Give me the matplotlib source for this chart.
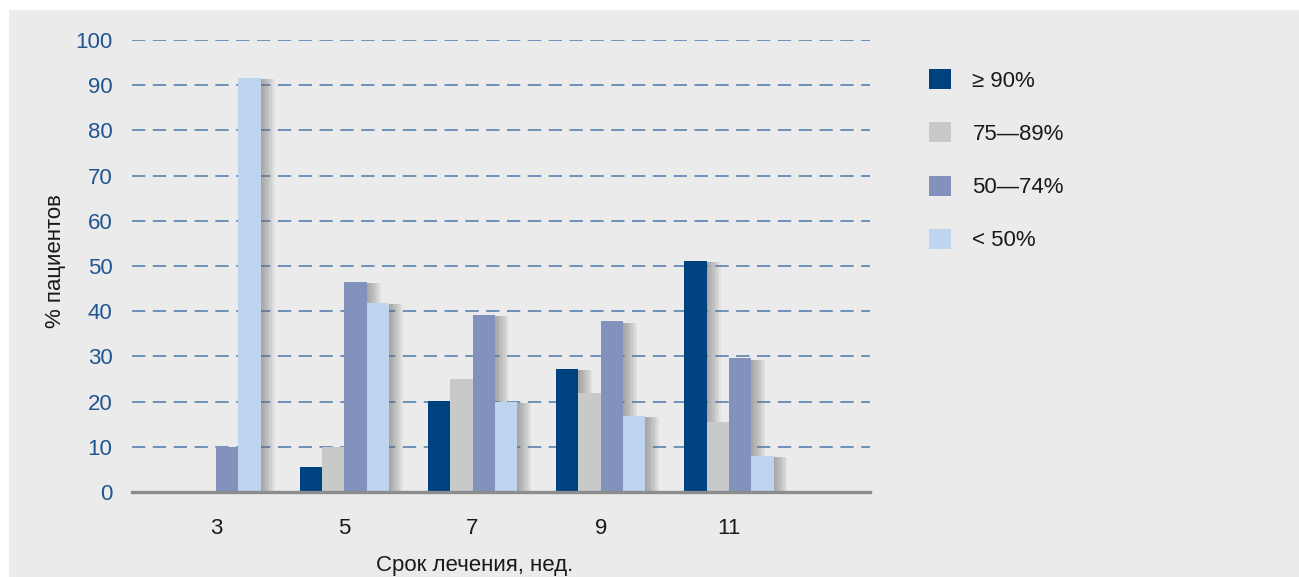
import numpy as np
import matplotlib.pyplot as plt
import matplotlib.patheffects as pe
from matplotlib.patches import Rectangle, Patch

plt.rcParams['font.family'] = ['Liberation Sans Narrow', 'Liberation Sans', 'DejaVu Sans']

weeks = ['3', '5', '7', '9', '11']
series_names = ['≥ 90%', '75—89%', '50—74%', '< 50%']
ge90 = [0, 5.5, 20.1, 27.2, 51.1]
p75_89 = [0, 10.0, 25.0, 21.9, 15.5]
p50_74 = [10.0, 46.5, 39.2, 37.8, 29.6]
lt50 = [91.7, 41.8, 20.0, 16.8, 8.0]
yticks = [0, 10, 20, 30, 40, 50, 60, 70, 80, 90, 100]

colors = ['#00427f', '#c8c9c9', '#8292bd', '#bdd5ef']
bg = '#ebebeb'

fig = plt.figure(figsize=(12.99, 5.77), dpi=100)
fig.patch.set_facecolor('white')
fig.patches.append(Rectangle((9/1299, 0), 1, 1 - 10/577, transform=fig.transFigure,
                             facecolor=bg, edgecolor='none', zorder=-10))

ax = fig.add_axes([132/1299, 1 - 492/577, (870 - 132)/1299, (492 - 40)/577])
ax.set_facecolor('none')

x = np.arange(len(weeks))
w = 0.174
all_series = [ge90, p75_89, p50_74, lt50]
# soft shadow to the right of each bar
shadow = [pe.SimplePatchShadow(offset=(k, -1), shadow_rgbFace='#6e6e6e', alpha=0.07)
          for k in range(1, 11)] + [pe.Normal()]
for i, (vals, c) in enumerate(zip(all_series, colors)):
    bars = ax.bar(x + (i - 1.5) * w, vals, width=w, color=c, zorder=3)
    for b in bars:
        if b.get_height() > 0:
            b.set_path_effects(shadow)

ax.set_xlim(-0.656, 5.1)
ax.set_ylim(0, 100)
ax.set_yticks(yticks)
ax.set_xticks(x)
ax.set_xticklabels(weeks)
for yv in yticks[1:]:
    ax.axhline(yv, color='#3f6fa5', lw=1.2, ls=(0, (8, 4.5)), alpha=0.85, zorder=1)
ax.axhline(0, color='#8c8c8c', lw=2.4, zorder=4, clip_on=False)

for s in ax.spines.values():
    s.set_visible(False)
ax.tick_params(axis='both', length=0)
ax.tick_params(axis='y', colors='#1f5591', labelsize=16, pad=14)
ax.tick_params(axis='x', colors='#1a1a1a', labelsize=16, pad=19)

ax.set_ylabel('% пациентов', fontsize=16, color='#1a1a1a', labelpad=6)
ax.yaxis.set_label_coords(-0.09, 0.51)
fig.text(475/1299, 1 - 566/577, 'Срок лечения, нед.', ha='center', va='center',
         fontsize=16, color='#1a1a1a')

handles = [Patch(facecolor=c, edgecolor='none') for c in colors]
leg = ax.legend(handles, series_names, loc='upper left', bbox_to_anchor=(1.068, 0.955),
                frameon=False, fontsize=16, handlelength=1.0, handleheight=1.0,
                labelspacing=1.38, handletextpad=0.95, borderaxespad=0)
for t in leg.get_texts():
    t.set_color('#1a1a1a')

fig.savefig('out.png', dpi=100, facecolor=fig.get_facecolor())
